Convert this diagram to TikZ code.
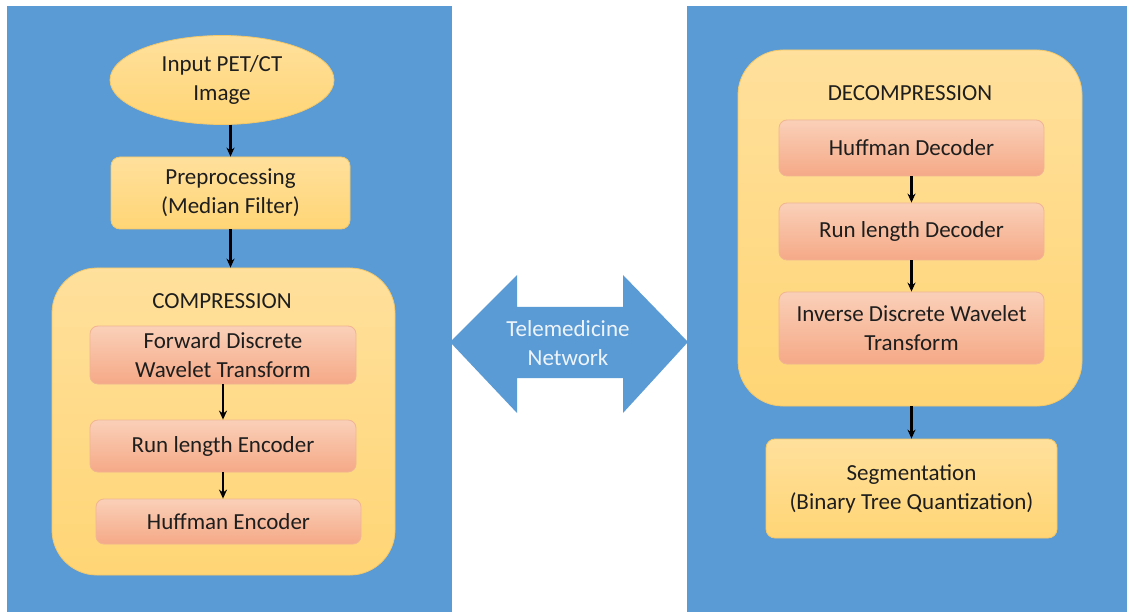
\documentclass[tikz,border=0pt]{standalone}
\usepackage{fontspec}
\setmainfont{Carlito}
\usetikzlibrary{arrows.meta,shapes.geometric,calc}
\definecolor{panelblue}{HTML}{5B9BD5}
\definecolor{goldtop}{HTML}{FFE09C}
\definecolor{goldbot}{HTML}{FFD575}
\definecolor{goldline}{HTML}{F3C868}
\definecolor{salmontop}{HTML}{FAD0B8}
\definecolor{salmonbot}{HTML}{F5A987}
\definecolor{salmonline}{HTML}{F1B593}
\definecolor{inktext}{HTML}{1E1E1E}
\definecolor{nettext}{HTML}{EEF4FB}

\begin{document}
\begin{tikzpicture}[x=1pt,y=-1pt,
  font=\fontsize{23}{29}\selectfont,
  panel/.style={fill=panelblue,draw=none},
  goldbox/.style={draw=goldline,line width=0.8pt,top color=goldtop,bottom color=goldbot,
    rounded corners=9pt,align=center,text=inktext,inner sep=0pt},
  groupbox/.style={goldbox,rounded corners=45pt},
  stagebox/.style={draw=salmonline,line width=0.8pt,top color=salmontop,bottom color=salmonbot,
    rounded corners=8pt,align=center,text=inktext,inner sep=0pt},
  grouptitle/.style={text=inktext,inner sep=0pt},
  flow/.style={-{Stealth[length=9pt,width=8pt]},line width=2.2pt,black}]

\useasboundingbox (0,0) rectangle (1127,612);
\fill[white] (0,0) rectangle (1127,612);

% sender and receiver panels
\path[panel] (7,6) rectangle (452,612);
\path[panel] (687,6) rectangle (1127,612);

% ---- sender side ----
\node[goldbox,ellipse,minimum width=224pt,minimum height=89pt] (inp) at (222,80)
  {Input PET/CT\\Image};
\node[goldbox,minimum width=239pt,minimum height=72pt] (prep) at (230.5,193)
  {Preprocessing\\(Median Filter)};
\node[groupbox,minimum width=343pt,minimum height=307pt] (comp) at (223.5,421.5) {};
\node[grouptitle] (compt) at (222,301) {COMPRESSION};
\node[stagebox,minimum width=266pt,minimum height=58pt] (fdwt) at (223,355)
  {Forward Discrete\\Wavelet Transform};
\node[stagebox,minimum width=266pt,minimum height=52pt] (rle) at (223,446)
  {Run length Encoder};
\node[stagebox,minimum width=265pt,minimum height=45pt] (henc) at (228.5,521.5)
  {Huffman Encoder};

\draw[flow] (prep.north |- inp.south) -- (prep.north);
\draw[flow] (prep.south) -- (prep.south |- comp.north);
\draw[flow] (fdwt.south) -- (fdwt.south |- rle.north);
\draw[flow] (rle.south) -- (rle.south |- henc.north);

% ---- network link ----
\path[fill=panelblue] (450,342) -- (517,275) -- (517,307) -- (623,307) -- (623,275)
  -- (688,342) -- (623,413) -- (623,378) -- (517,378) -- (517,413) -- cycle;
\node[text=nettext,align=center,inner sep=0pt] (net) at (568,343) {Telemedicine\\Network};

% ---- receiver side ----
\node[groupbox,minimum width=344pt,minimum height=356pt] (decomp) at (910,228) {};
\node[grouptitle] (decompt) at (910,93) {DECOMPRESSION};
\node[stagebox,minimum width=265pt,minimum height=56pt] (hdec) at (911.5,148)
  {Huffman Decoder};
\node[stagebox,minimum width=265pt,minimum height=57pt] (rdec) at (911.5,231.5)
  {Run length Decoder};
\node[stagebox,minimum width=265pt,minimum height=72pt] (idwt) at (911.5,328)
  {Inverse Discrete Wavelet\\Transform};
\node[goldbox,minimum width=291pt,minimum height=99pt] (seg) at (911.5,488.5)
  {Segmentation\\(Binary Tree Quantization)};

\draw[flow] (hdec.south) -- (rdec.north);
\draw[flow] (rdec.south) -- (idwt.north);
\draw[flow] (seg.north |- decomp.south) -- (seg.north);
\end{tikzpicture}
\end{document}
